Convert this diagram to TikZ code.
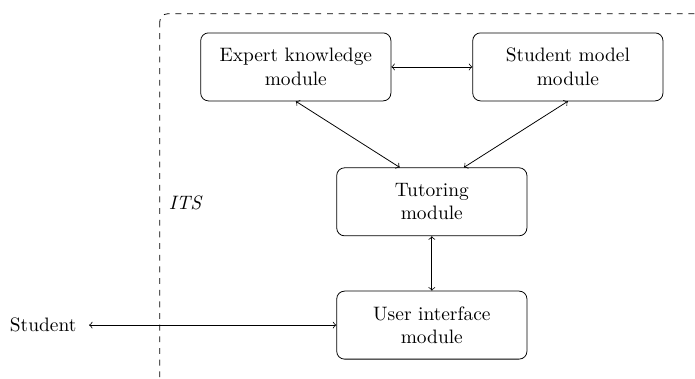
\documentclass[tikz,border=0pt]{standalone}
\usepackage{tikz}
\usetikzlibrary{positioning,calc}

\begin{document}
\begin{tikzpicture}[module/.style={draw,rounded corners,align=center,minimum width=3.44cm,minimum height=1.23cm}]
\clip (0,0) rectangle (12.57,-6.85);
\draw[dashed,rounded corners] (2.89,-0.25) rectangle (13.6,-7.4);
\node[module] (expert) at (5.35,-1.21) {Expert knowledge\\module};
\node[module] (smodel) at (10.27,-1.21) {Student model\\module};
\node[module] (tutor) at (7.81,-3.65) {Tutoring\\module};
\node[module] (ui) at (7.81,-5.88) {User interface\\module};
\node (student) at (0.78,-5.88) {Student};
\node (its) at (3.36,-3.67) {\textit{ITS}};
\draw[<->] (expert) -- (smodel);
\draw[<->] (expert.south) -- ([xshift=-0.58cm]tutor.north);
\draw[<->] (smodel.south) -- ([xshift=0.58cm]tutor.north);
\draw[<->] (tutor) -- (ui);
\draw[<->,shorten <=3pt] (student) -- (ui);
\end{tikzpicture}
\end{document}
